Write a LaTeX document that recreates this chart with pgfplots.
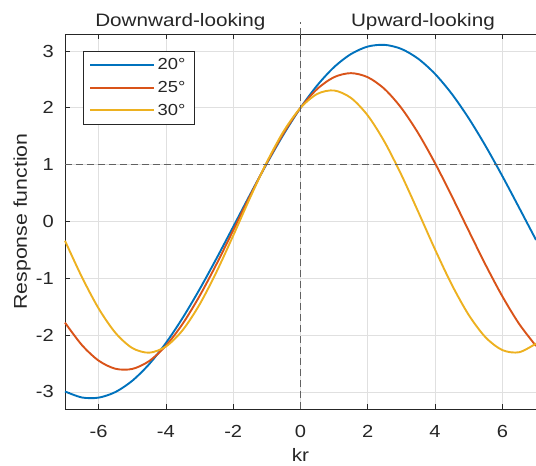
\documentclass[border=0pt]{standalone}
\usepackage{pgfplots}
\pgfplotsset{compat=1.18}
\usepackage{fontspec}
\setmainfont{Liberation Sans}[FakeStretch=1.15]
\definecolor{cblue}{rgb}{0,0.447,0.741}
\definecolor{corange}{rgb}{0.85,0.325,0.098}
\definecolor{cyellow}{rgb}{0.929,0.694,0.125}
\definecolor{axgray}{gray}{0.15}
\begin{document}
\begin{tikzpicture}
\begin{axis}[
  at={(0pt,0pt)}, anchor=south west,
  scale only axis, width=471pt, height=375pt,
  xmin=-7, xmax=7, ymin=-3.3, ymax=3.3, enlargelimits=false,
  xtick={-6,-4,-2,0,2,4,6}, ytick={-3,-2,-1,0,1,2,3},
  axis x line=box, axis y line=left,
  axis line style={-, axgray, line width=0.9pt},
  tick align=inside, major tick length=5pt,
  tick style={axgray, line width=0.8pt},
  grid=major, grid style={black!12, line width=0.8pt},
  /pgf/number format/assume math mode=true,
  ticklabel style={font=\fontsize{17.5}{20}\selectfont, text=axgray},
  xticklabel style={anchor=north, inner sep=0pt, yshift=-16pt},
  yticklabel style={anchor=east, inner sep=0pt, xshift=-11pt},
  xlabel={kr}, ylabel={Response function},
  xlabel style={font=\fontsize{18}{20}\selectfont, text=axgray, at={(axis description cs:0.5,0)}, anchor=base, yshift=-53pt},
  ylabel style={font=\fontsize{18.5}{20}\selectfont, text=axgray, at={([xshift=-43pt]axis description cs:0,0.5)}, anchor=center},
  clip=false,
  legend cell align=left,
  legend style={at={(axis description cs:0,1)}, anchor=north west, xshift=18pt, yshift=-17pt,
    draw=axgray, fill=white, inner xsep=6pt, inner ysep=5pt,
    font=\fontsize{16}{18}\selectfont, text=axgray, row sep=5pt,
    nodes={inner sep=2.5pt}},
  legend image code/.code={\draw[#1] (0pt,0pt) -- (64pt,0pt);},
]
\addplot[color=cblue, line width=1.9pt, smooth] coordinates {
(-7,-2.991) (-6.5,-3.097) (-6,-3.100) (-5.5,-3.001) (-5,-2.803) (-4.5,-2.512) (-4,-2.138) (-3.5,-1.694) (-3,-1.194) (-2.5,-0.654) (-2,-0.093) (-1.5,0.472) (-1,1.021) (-0.5,1.536) (0,2.000) (0.5,2.398) (1,2.718) (1.5,2.947) (2,3.079) (2.5,3.109) (3,3.037) (3.5,2.864) (4,2.597) (4.5,2.244) (5,1.817) (5.5,1.330) (6,0.799) (6.5,0.241) (7,-0.324)};
\addlegendentry{20°}
\addplot[color=corange, line width=1.9pt, smooth] coordinates {
(-7,-1.780) (-6.5,-2.173) (-6,-2.449) (-5.5,-2.592) (-5,-2.595) (-4.5,-2.457) (-4,-2.186) (-3.5,-1.798) (-3,-1.311) (-2.5,-0.754) (-2,-0.156) (-1.5,0.450) (-1,1.032) (-0.5,1.558) (0,2.000) (0.5,2.334) (1,2.541) (1.5,2.611) (2,2.539) (2.5,2.331) (3,1.996) (3.5,1.553) (4,1.026) (4.5,0.443) (5,-0.163) (5.5,-0.761) (6,-1.317) (6.5,-1.803) (7,-2.190)};
\addlegendentry{25°}
\addplot[color=cyellow, line width=1.9pt, smooth] coordinates {
(-7,-0.339) (-6.5,-0.975) (-6,-1.531) (-5.5,-1.960) (-5,-2.227) (-4.5,-2.309) (-4,-2.200) (-3.5,-1.910) (-3,-1.461) (-2.5,-0.891) (-2,-0.248) (-1.5,0.416) (-1,1.046) (-0.5,1.589) (0,2.000) (0.5,2.246) (1,2.306) (1.5,2.175) (2,1.865) (2.5,1.400) (3,0.819) (3.5,0.170) (4,-0.493) (4.5,-1.115) (5,-1.644) (5.5,-2.038) (6,-2.263) (6.5,-2.301) (7,-2.148)};
\addlegendentry{30°}
\draw[black!62, line width=1.3pt, dash pattern=on 7pt off 4pt] (axis cs:-7,1) -- (axis cs:7,1);
\draw[black!62, line width=1.3pt, dash pattern=on 7pt off 4pt] (axis cs:0,-3.3) -- ([yshift=12pt]axis cs:0,3.3);
\node[font=\fontsize{18}{20}\selectfont, text=axgray, anchor=base] at ([yshift=8pt]axis description cs:0.245,1) {Downward-looking};
\node[font=\fontsize{18}{20}\selectfont, text=axgray, anchor=base] at ([yshift=8pt]axis description cs:0.76,1) {Upward-looking};
\end{axis}
\pgfresetboundingbox
\path[use as bounding box] (-65pt,-57pt) rectangle (471pt,409pt);
\end{tikzpicture}
\end{document}
